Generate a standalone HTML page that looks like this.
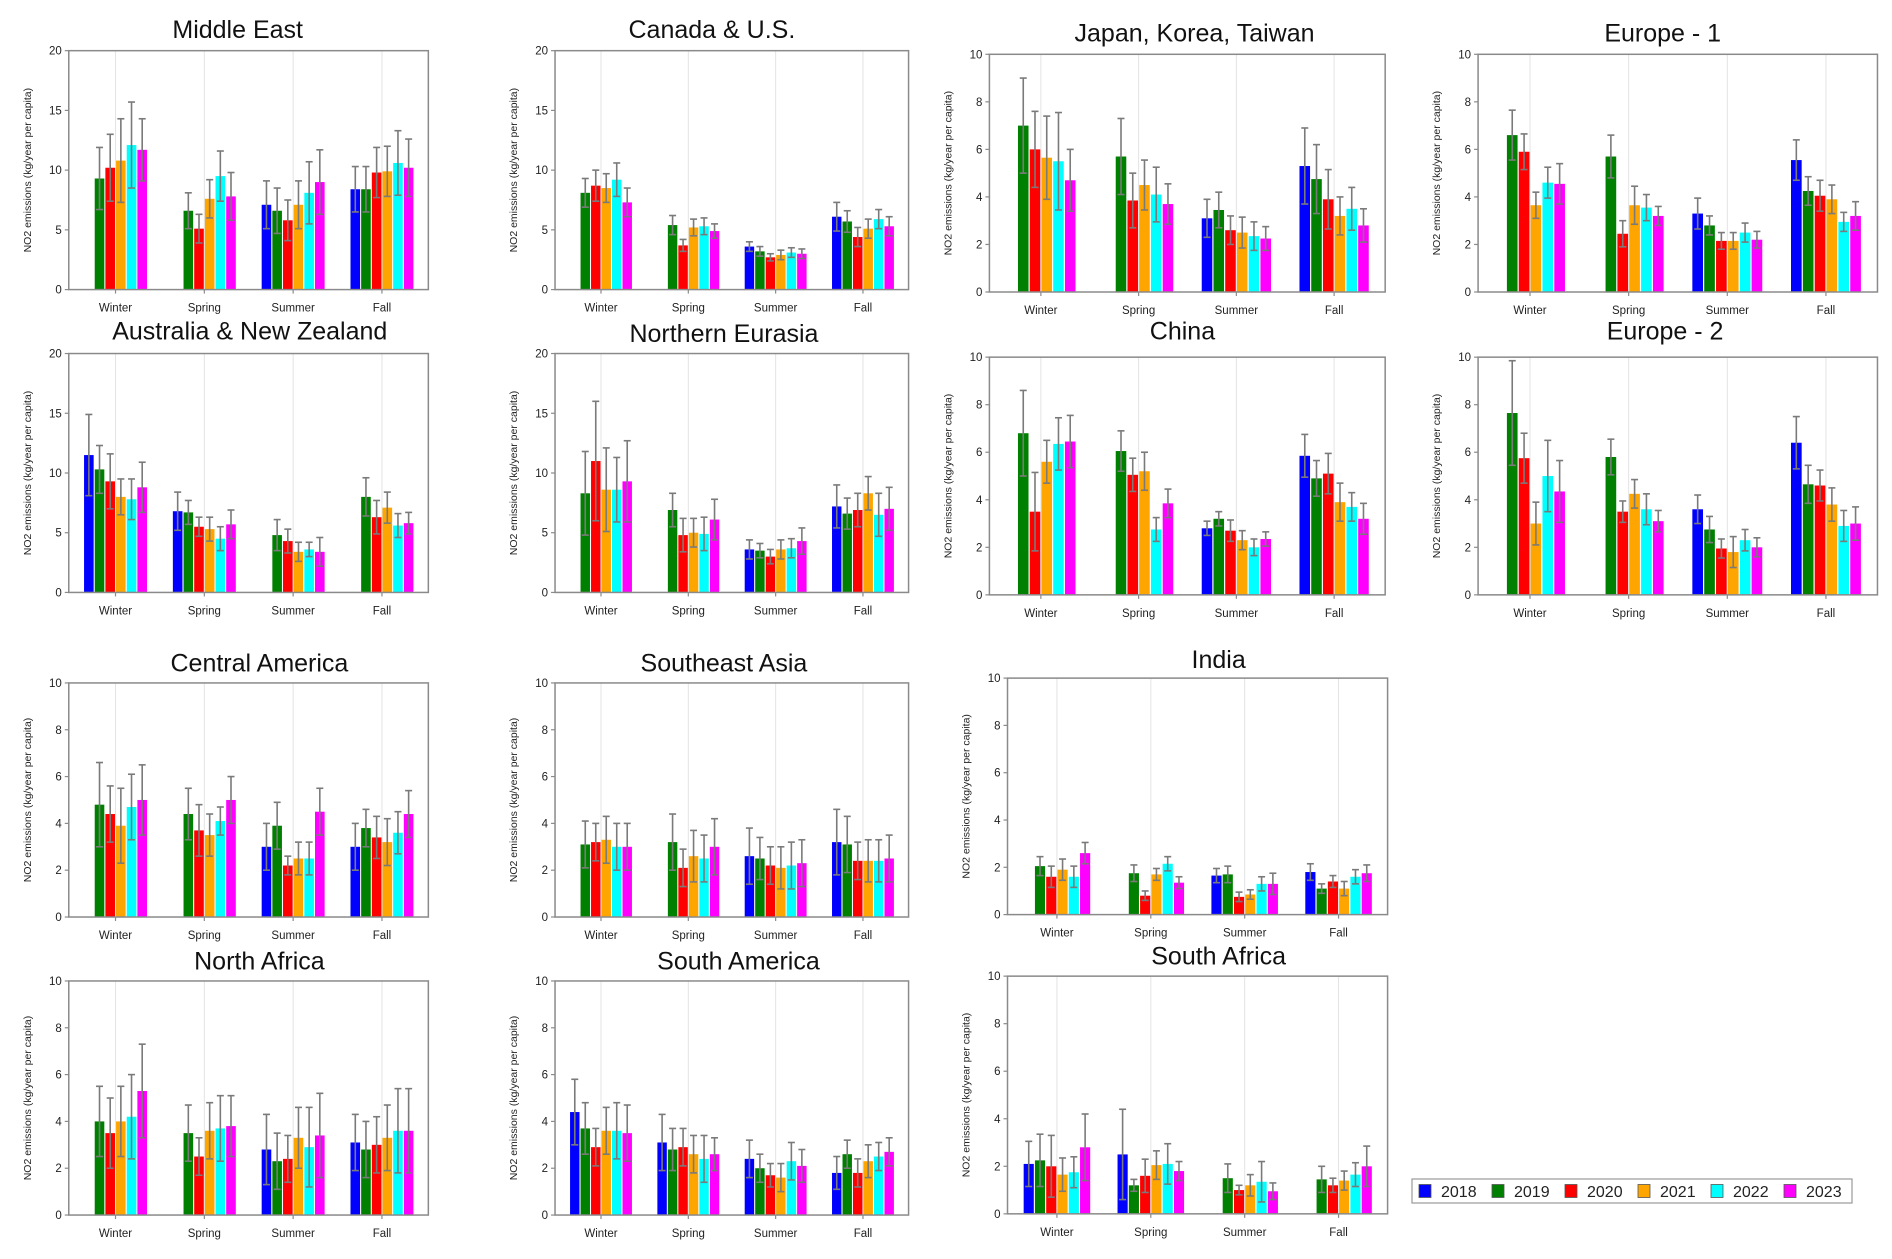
<!DOCTYPE html>
<html><head><meta charset="utf-8"><style>
html,body{margin:0;padding:0;background:#fff;}
svg{display:block;font-family:"Liberation Sans",Arial,sans-serif;}
</style></head><body>
<svg id="chart" width="1892" height="1259" viewBox="0 0 1892 1259" xmlns="http://www.w3.org/2000/svg"></svg>
<script>
const categories = ['Winter','Spring','Summer','Fall'];
const years = ['2018','2019','2020','2021','2022','2023'];
const colors = ['#0000ff','#008000','#ff0000','#ffa500','#00ffff','#ff00ff'];

const middleEastValues = [[null,9.3,10.2,10.8,12.1,11.7],[null,6.6,5.1,7.6,9.5,7.8],[7.1,6.6,5.8,7.1,8.1,9.0],[8.4,8.4,9.8,9.9,10.6,10.2]];
const middleEastErrors = [[0,2.6,2.8,3.5,3.6,2.6],[0,1.5,1.2,1.6,2.1,2.0],[2.0,1.9,1.7,2.0,2.6,2.7],[1.9,1.9,2.1,2.1,2.7,2.4]];
const canadaValues = [[null,8.1,8.7,8.5,9.2,7.3],[null,5.4,3.7,5.2,5.3,4.9],[3.6,3.2,2.7,2.9,3.1,3.0],[6.1,5.7,4.4,5.1,5.9,5.3]];
const canadaErrors = [[0,1.2,1.3,1.2,1.4,1.2],[0,0.8,0.5,0.7,0.7,0.6],[0.4,0.4,0.3,0.4,0.4,0.4],[1.2,0.9,0.8,0.8,0.8,0.8]];
const japanValues = [[null,7.0,6.0,5.65,5.5,4.7],[null,5.7,3.85,4.5,4.1,3.7],[3.1,3.45,2.6,2.5,2.35,2.25],[5.3,4.75,3.9,3.2,3.5,2.8]];
const japanErrors = [[0,2.0,1.6,1.75,2.05,1.3],[0,1.6,1.15,1.05,1.15,0.85],[0.8,0.75,0.6,0.65,0.6,0.5],[1.6,1.45,1.25,0.8,0.9,0.7]];
const europe1Values = [[null,6.6,5.9,3.65,4.6,4.55],[null,5.7,2.45,3.65,3.55,3.2],[3.3,2.8,2.15,2.15,2.5,2.2],[5.55,4.25,4.05,3.9,2.95,3.2]];
const europe1Errors = [[0,1.05,0.75,0.55,0.65,0.85],[0,0.9,0.55,0.8,0.55,0.4],[0.65,0.4,0.35,0.35,0.4,0.35],[0.85,0.6,0.65,0.6,0.4,0.6]];
const australiaValues = [[11.5,10.3,9.3,8.0,7.8,8.8],[6.8,6.7,5.5,5.3,4.5,5.7],[null,4.8,4.3,3.4,3.6,3.4],[null,8.0,6.3,7.1,5.6,5.8]];
const australiaErrors = [[3.4,2.0,2.3,1.5,1.7,2.1],[1.6,1.0,0.8,1.0,1.0,1.2],[0,1.3,1.0,0.8,0.6,1.2],[0,1.6,1.4,1.3,1.0,0.9]];
const northernEurasiaValues = [[null,8.3,11.0,8.6,8.6,9.3],[null,6.9,4.8,5.0,4.9,6.1],[3.6,3.5,3.0,3.6,3.7,4.3],[7.2,6.6,6.9,8.3,6.5,7.0]];
const northernEurasiaErrors = [[0,3.5,5.0,3.5,2.7,3.4],[0,1.4,1.4,1.2,1.4,1.7],[0.8,0.6,0.6,0.8,0.8,1.1],[1.8,1.3,1.4,1.4,1.8,1.8]];
const chinaValues = [[null,6.8,3.5,5.6,6.35,6.45],[null,6.05,5.05,5.2,2.75,3.85],[2.8,3.2,2.7,2.3,2.0,2.35],[5.85,4.9,5.1,3.9,3.7,3.2]];
const chinaErrors = [[0,1.8,1.65,0.9,1.1,1.1],[0,0.85,0.7,0.8,0.5,0.6],[0.3,0.3,0.45,0.4,0.35,0.3],[0.9,0.75,0.85,0.8,0.6,0.65]];
const europe2Values = [[null,7.65,5.75,3.0,5.0,4.35],[null,5.8,3.5,4.25,3.6,3.1],[3.6,2.75,1.95,1.8,2.3,2.0],[6.4,4.65,4.6,3.8,2.9,3.0]];
const europe2Errors = [[0,2.2,1.05,0.9,1.5,1.3],[0,0.75,0.45,0.6,0.65,0.45],[0.6,0.55,0.4,0.65,0.45,0.4],[1.1,0.8,0.65,0.7,0.65,0.7]];
const centralAmericaValues = [[null,4.8,4.4,3.9,4.7,5.0],[null,4.4,3.7,3.5,4.1,5.0],[3.0,3.9,2.2,2.5,2.5,4.5],[3.0,3.8,3.4,3.2,3.6,4.4]];
const centralAmericaErrors = [[0,1.8,1.2,1.6,1.4,1.5],[0,1.1,1.1,0.9,0.6,1.0],[1.0,1.0,0.4,0.7,0.7,1.0],[1.0,0.8,0.9,1.0,0.9,1.0]];
const southeastAsiaValues = [[null,3.1,3.2,3.3,3.0,3.0],[null,3.2,2.1,2.6,2.5,3.0],[2.6,2.5,2.2,2.1,2.2,2.3],[3.2,3.1,2.4,2.4,2.4,2.5]];
const southeastAsiaErrors = [[0,1.0,0.8,1.0,1.0,1.0],[0,1.2,0.8,1.1,1.0,1.2],[1.2,0.9,0.8,0.9,1.0,1.0],[1.4,1.2,0.8,0.9,0.9,1.0]];
const indiaValues = [[null,2.05,1.6,1.9,1.6,2.6],[null,1.75,0.8,1.7,2.15,1.35],[1.65,1.7,0.75,0.85,1.3,1.3],[1.8,1.1,1.4,1.1,1.6,1.75]];
const indiaErrors = [[0,0.4,0.45,0.45,0.45,0.45],[0,0.35,0.2,0.25,0.3,0.25],[0.3,0.35,0.2,0.2,0.3,0.45],[0.35,0.2,0.25,0.3,0.3,0.35]];
const northAfricaValues = [[null,4.0,3.5,4.0,4.2,5.3],[null,3.5,2.5,3.6,3.7,3.8],[2.8,2.3,2.4,3.3,2.9,3.4],[3.1,2.8,3.0,3.3,3.6,3.6]];
const northAfricaErrors = [[0,1.5,1.5,1.5,1.8,2.0],[0,1.2,0.8,1.2,1.4,1.3],[1.5,1.2,1.0,1.3,1.7,1.8],[1.2,1.2,1.2,1.4,1.8,1.8]];
const southAmericaValues = [[4.4,3.7,2.9,3.6,3.6,3.5],[3.1,2.8,2.9,2.6,2.4,2.6],[2.4,2.0,1.7,1.6,2.3,2.1],[1.8,2.6,1.8,2.3,2.5,2.7]];
const southAmericaErrors = [[1.4,1.1,0.8,1.0,1.2,1.2],[1.2,0.9,0.8,0.8,1.0,0.7],[0.8,0.6,0.5,0.6,0.8,0.7],[0.7,0.6,0.6,0.7,0.6,0.6]];
const southAfricaValues = [[2.1,2.25,2.0,1.65,1.75,2.8],[2.5,1.2,1.6,2.05,2.1,1.8],[null,1.5,1.0,1.2,1.35,0.95],[null,1.45,1.2,1.4,1.65,2.0]];
const southAfricaErrors = [[0.95,1.1,1.3,0.7,0.65,1.4],[1.9,0.25,0.7,0.6,0.85,0.4],[0,0.6,0.2,0.45,0.85,0.35],[0,0.55,0.3,0.4,0.5,0.85]];

const yMaxLarge = 20, yStepLarge = 5;
const yMaxSmall = 10, yStepSmall = 2;

// layout: [title, key, values, errors, yMax, yStep, left, top, right, bottom, titleX, titleY]
const S = 1.2066;
const panels = [
 ['Middle East','middle-east',middleEastValues,middleEastErrors,yMaxLarge,yStepLarge,57,42,355,240,197,24],
 ['Canada & U.S.','canada-us',canadaValues,canadaErrors,yMaxLarge,yStepLarge,460,42,753,240,590,24],
 ['Japan, Korea, Taiwan','japan-korea-taiwan',japanValues,japanErrors,yMaxSmall,yStepSmall,820,45,1148,242,990,27],
 ['Europe - 1','europe-1',europe1Values,europe1Errors,yMaxSmall,yStepSmall,1225,45,1556,242,1378,27],
 ['Australia & New Zealand','australia-new-zealand',australiaValues,australiaErrors,yMaxLarge,yStepLarge,57,293,355,491,207,274],
 ['Northern Eurasia','northern-eurasia',northernEurasiaValues,northernEurasiaErrors,yMaxLarge,yStepLarge,460,293,753,491,600,276],
 ['China','china',chinaValues,chinaErrors,yMaxSmall,yStepSmall,820,296,1148,493,980,274],
 ['Europe - 2','europe-2',europe2Values,europe2Errors,yMaxSmall,yStepSmall,1225,296,1556,493,1380,274],
 ['Central America','central-america',centralAmericaValues,centralAmericaErrors,yMaxSmall,yStepSmall,57,566,355,760,215,549],
 ['Southeast Asia','southeast-asia',southeastAsiaValues,southeastAsiaErrors,yMaxSmall,yStepSmall,460,566,753,760,600,549],
 ['India','india',indiaValues,indiaErrors,yMaxSmall,yStepSmall,835,562,1150,758,1010,546],
 ['North Africa','north-africa',northAfricaValues,northAfricaErrors,yMaxSmall,yStepSmall,57,813,355,1007,215,796],
 ['South America','south-america',southAmericaValues,southAmericaErrors,yMaxSmall,yStepSmall,460,813,753,1007,612,796],
 ['South Africa','south-africa',southAfricaValues,southAfricaErrors,yMaxSmall,yStepSmall,835,809,1150,1006,1010,792]
];

const NS='http://www.w3.org/2000/svg';
const svg=document.getElementById('chart');
function mk(tag,attrs,parent){const e=document.createElementNS(NS,tag);for(const k in attrs)e.setAttribute(k,attrs[k]);(parent||svg).appendChild(e);return e;}

panels.forEach(p=>{
  const [title,key,vals,errs,yMax,yStep]=p;
  const L=p[6]*S,T=p[7]*S,R=p[8]*S,B=p[9]*S,tx=p[10]*S,ty=p[11]*S;
  const W=R-L,H=B-T;
  const g=mk('g',{});
  
  
  const yScale=v=>B-(v/yMax)*H;
  const xCat=i=>L+W*(0.13+0.247*i);
  const slot=W*0.178/6, bw=slot*0.9;
  const t=mk('text',{x:tx,y:ty+9,'text-anchor':'middle','font-size':25,fill:'#111'},g);
  t.textContent=title;
  
  
  // gridlines
  categories.forEach((c,i)=>{
    const gl=mk('line',{x1:xCat(i),x2:xCat(i),y1:T,y2:B,stroke:'#e3e3e3','stroke-width':1},g);
    
    
  });
  // bars
  vals.forEach((row,i)=>{
    row.forEach((v,j)=>{
      if(v===null)return;
      const x=xCat(i)-3*slot+j*slot+(slot-bw)/2;
      const r=mk('rect',{x:x,y:yScale(v),width:bw,height:B-yScale(v),fill:colors[j]},g);
      
      
    });
  });
  vals.forEach((row,i)=>{
    row.forEach((v,j)=>{
      if(v===null)return;
      const e=errs[i][j];
      const cx=xCat(i)-3*slot+j*slot+slot/2;
      const eg=mk('g',{stroke:'#7a7a7a','stroke-width':1.6},g);
      
      
      mk('line',{x1:cx,x2:cx,y1:yScale(v+e),y2:yScale(Math.max(0,v-e))},eg);
      mk('line',{x1:cx-3.5,x2:cx+3.5,y1:yScale(v+e),y2:yScale(v+e)},eg);
      mk('line',{x1:cx-3.5,x2:cx+3.5,y1:yScale(Math.max(0,v-e)),y2:yScale(Math.max(0,v-e))},eg);
    });
  });
  // frame
  const fr=mk('rect',{x:L,y:T,width:W,height:H,fill:'none',stroke:'#8a8a8a','stroke-width':1.5},g);
  
  
  // y ticks
  for(let v=0;v<=yMax;v+=yStep){
    const y=yScale(v);
    mk('line',{x1:L-4,x2:L,y1:y,y2:y,stroke:'#8a8a8a','stroke-width':1.2},g);
    const tl=mk('text',{x:L-7,y:y+4,'text-anchor':'end','font-size':11.5,fill:'#222'},g);
    tl.textContent=v;
    
    
  }
  // x ticks
  categories.forEach((c,i)=>{
    mk('line',{x1:xCat(i),x2:xCat(i),y1:B,y2:B+4,stroke:'#8a8a8a','stroke-width':1.2},g);
    const xl=mk('text',{x:xCat(i),y:B+22,'text-anchor':'middle','font-size':11.5,fill:'#222'},g);
    xl.textContent=c;
    
    
  });
  const ya=mk('text',{x:0,y:0,'text-anchor':'middle','font-size':10.5,fill:'#222',transform:`translate(${L-38},${T+H/2}) rotate(-90)`},g);
  ya.textContent='NO2 emissions (kg/year per capita)';
  
  
});

// legend
const lg=mk('g',{});


mk('rect',{x:1412,y:1179,width:440,height:24,fill:'#fff',stroke:'#999','stroke-width':1.2},lg);
years.forEach((yr,j)=>{
  const ex=1419+j*73;
  const eg=mk('g',{},lg);
  
  
  mk('rect',{x:ex,y:1184.5,width:12,height:13,fill:colors[j],stroke:'#555','stroke-width':0.8},eg);
  const lt=mk('text',{x:ex+22,y:1197,'font-size':16,fill:'#222'},eg);
  lt.textContent=yr;
});
</script>
</body></html>
